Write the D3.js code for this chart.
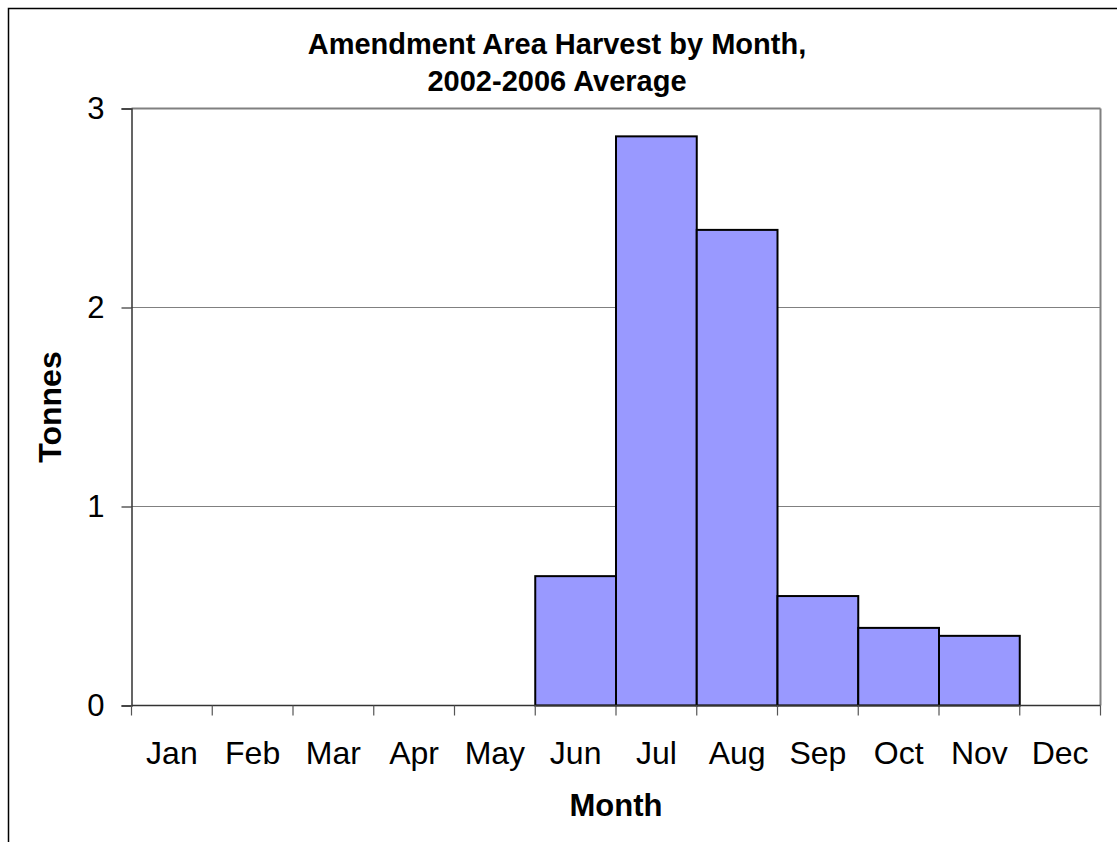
<!DOCTYPE html>
<html>
<head>
<meta charset="utf-8">
<script src="https://cdn.jsdelivr.net/npm/d3@7"></script>
<style>
  html, body { margin: 0; padding: 0; background: #fff; }
  svg { display: block; }
  text { font-family: "Liberation Sans", Arial, sans-serif; fill: #000; }
</style>
</head>
<body>
<svg id="chart" width="1117" height="842"></svg>
<script>
// Average monthly harvest in the amendment area, 2002-2006 (tonnes)
const months = ["Jan", "Feb", "Mar", "Apr", "May", "Jun", "Jul", "Aug", "Sep", "Oct", "Nov", "Dec"];
const tonnes = [0, 0, 0, 0, 0, 0.65, 2.86, 2.39, 0.55, 0.39, 0.35, 0];
const yTicks = [0, 1, 2, 3];
const titleLines = ["Amendment Area Harvest by Month,", "2002-2006 Average"];

const svg = d3.select("#chart");
const plot = { left: 131.5, right: 1100.5, top: 108.5, bottom: 705.5 };

// Outer frame (runs off the right and bottom edges)
svg.append("rect")
  .attr("x", 8.5).attr("y", 8.5)
  .attr("width", 1300).attr("height", 1000)
  .attr("fill", "none").attr("stroke", "#000").attr("stroke-width", 1.5);

const x = d3.scaleBand().domain(months).range([plot.left, plot.right]).padding(0);
const y = d3.scaleLinear().domain([0, 3]).range([plot.bottom, plot.top]);

// Horizontal gridlines
svg.append("g").selectAll("line")
  .data(yTicks.filter(d => d > 0))
  .join("line")
  .attr("x1", plot.left).attr("x2", plot.right)
  .attr("y1", d => y(d)).attr("y2", d => y(d))
  .attr("stroke", "#808080")
  .attr("stroke-width", d => d === 3 ? 2 : 1);

// Right edge of the plot area
svg.append("line")
  .attr("x1", plot.right).attr("x2", plot.right)
  .attr("y1", plot.top).attr("y2", plot.bottom)
  .attr("stroke", "#808080").attr("stroke-width", 2);

// Bars
svg.append("g").selectAll("rect")
  .data(months.map((m, i) => ({ m, v: tonnes[i] })).filter(d => d.v > 0))
  .join("rect")
  .attr("x", d => x(d.m))
  .attr("y", d => y(d.v))
  .attr("width", x.bandwidth())
  .attr("height", d => y(0) - y(d.v))
  .attr("fill", "#9999FF")
  .attr("stroke", "#000")
  .attr("stroke-width", 2);

// Y axis
const yAxis = svg.append("g")
  .attr("transform", `translate(${plot.left},0)`)
  .call(d3.axisLeft(y).tickValues(yTicks).tickFormat(d3.format("d")).tickSize(10).tickPadding(17));
yAxis.select(".domain").attr("stroke", "#333").attr("stroke-width", 1.5);
yAxis.selectAll(".tick line").attr("stroke", "#333").attr("stroke-width", 1.2);
yAxis.selectAll(".tick text")
  .style("font-family", '"Liberation Sans", Arial, sans-serif')
  .style("font-size", "31px").attr("fill", "#000");

// X axis: ticks sit on band boundaries, labels at band centres
const xAxisG = svg.append("g");
xAxisG.append("line")
  .attr("x1", plot.left).attr("x2", plot.right)
  .attr("y1", plot.bottom).attr("y2", plot.bottom)
  .attr("stroke", "#333").attr("stroke-width", 1.5);
const edges = months.map(m => x(m)).concat([x(months[months.length - 1]) + x.bandwidth()]);
xAxisG.selectAll("line.tick")
  .data(edges)
  .join("line")
  .attr("class", "tick")
  .attr("x1", d => d).attr("x2", d => d)
  .attr("y1", plot.bottom).attr("y2", plot.bottom + 10)
  .attr("stroke", "#555").attr("stroke-width", 1.2);
xAxisG.selectAll("text")
  .data(months)
  .join("text")
  .attr("x", d => x(d) + x.bandwidth() / 2)
  .attr("y", 764)
  .attr("text-anchor", "middle")
  .style("font-size", "32px")
  .text(d => d);

// Title
svg.append("text")
  .attr("x", 557).attr("text-anchor", "middle")
  .style("font-size", "29px").style("font-weight", "bold")
  .selectAll("tspan")
  .data(titleLines)
  .join("tspan")
  .attr("x", 557)
  .attr("y", (d, i) => 54 + i * 37)
  .text(d => d);

// Axis titles
svg.append("text")
  .attr("x", 616).attr("y", 816)
  .attr("text-anchor", "middle")
  .style("font-size", "31px").style("font-weight", "bold")
  .text("Month");

svg.append("text")
  .attr("transform", `translate(61,${(plot.top + plot.bottom) / 2}) rotate(-90)`)
  .attr("text-anchor", "middle")
  .style("font-size", "32px").style("font-weight", "bold")
  .text("Tonnes");
</script>
</body>
</html>
